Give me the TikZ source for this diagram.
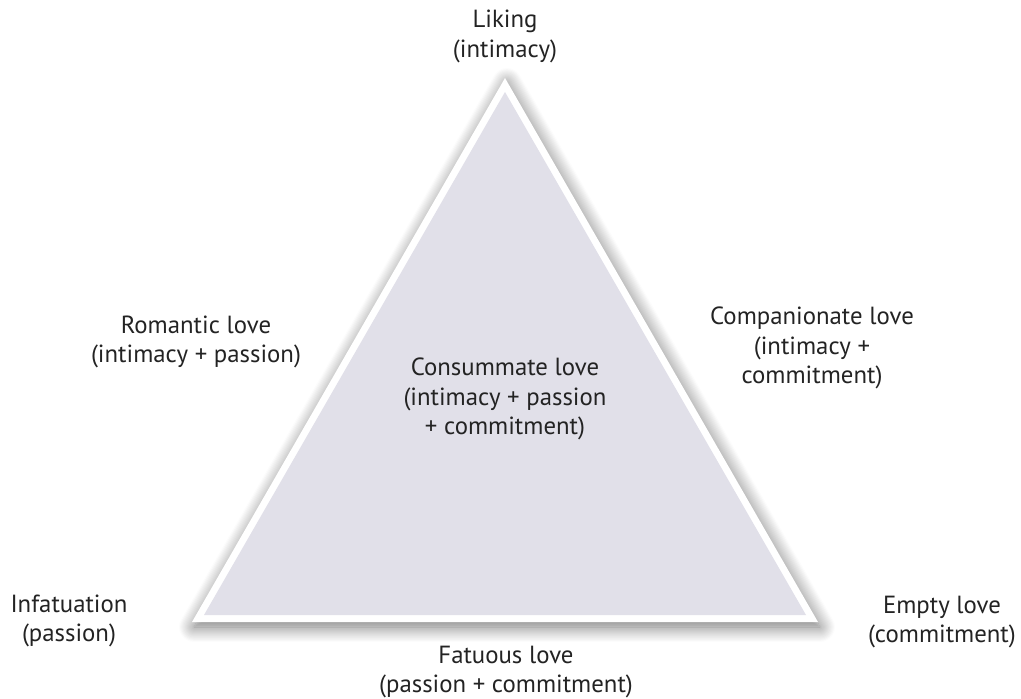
\documentclass[tikz,border=0pt]{standalone}
\usepackage{fontspec}
\setmainfont{PT Sans}
\usetikzlibrary{shadows.blur}
\definecolor{trifill}{RGB}{225,224,233}
\definecolor{labelgray}{RGB}{35,35,35}
\begin{document}
\begin{tikzpicture}[x=1pt,y=-1pt,
	lbl/.style={align=center,text=labelgray,inner sep=0pt,font=\fontsize{24.8}{29.5}\selectfont}]
	\useasboundingbox (0,0) rectangle (1021,699);
	\coordinate (apex) at (505,78);
	\coordinate (left) at (192,622);
	\coordinate (right) at (818,622);
	\fill[white,blur shadow={shadow blur steps=14,shadow xshift=2pt,shadow yshift=-5pt,shadow blur radius=15pt,shadow opacity=55}] (apex) -- (left) -- (right) -- cycle;
	\fill[trifill] (505,92) -- (204,615) -- (806,615) -- cycle;
	\node[lbl] (liking) at (505,36.5) {Liking\\(intimacy)};
	\node[lbl] (romantic) at (196,342) {Romantic love\\(intimacy + passion)};
	\node[lbl] (companionate) at (812,348) {Companionate love\\(intimacy +\\commitment)};
	\node[lbl] (consummate) at (505,399) {Consummate love\\(intimacy + passion\\+ commitment)};
	\node[lbl] (infatuation) at (69,621) {Infatuation\\(passion)};
	\node[lbl] (empty) at (942,622) {Empty love\\(commitment)};
	\node[lbl] (fatuous) at (506,672) {Fatuous love\\(passion + commitment)};
\end{tikzpicture}
\end{document}
